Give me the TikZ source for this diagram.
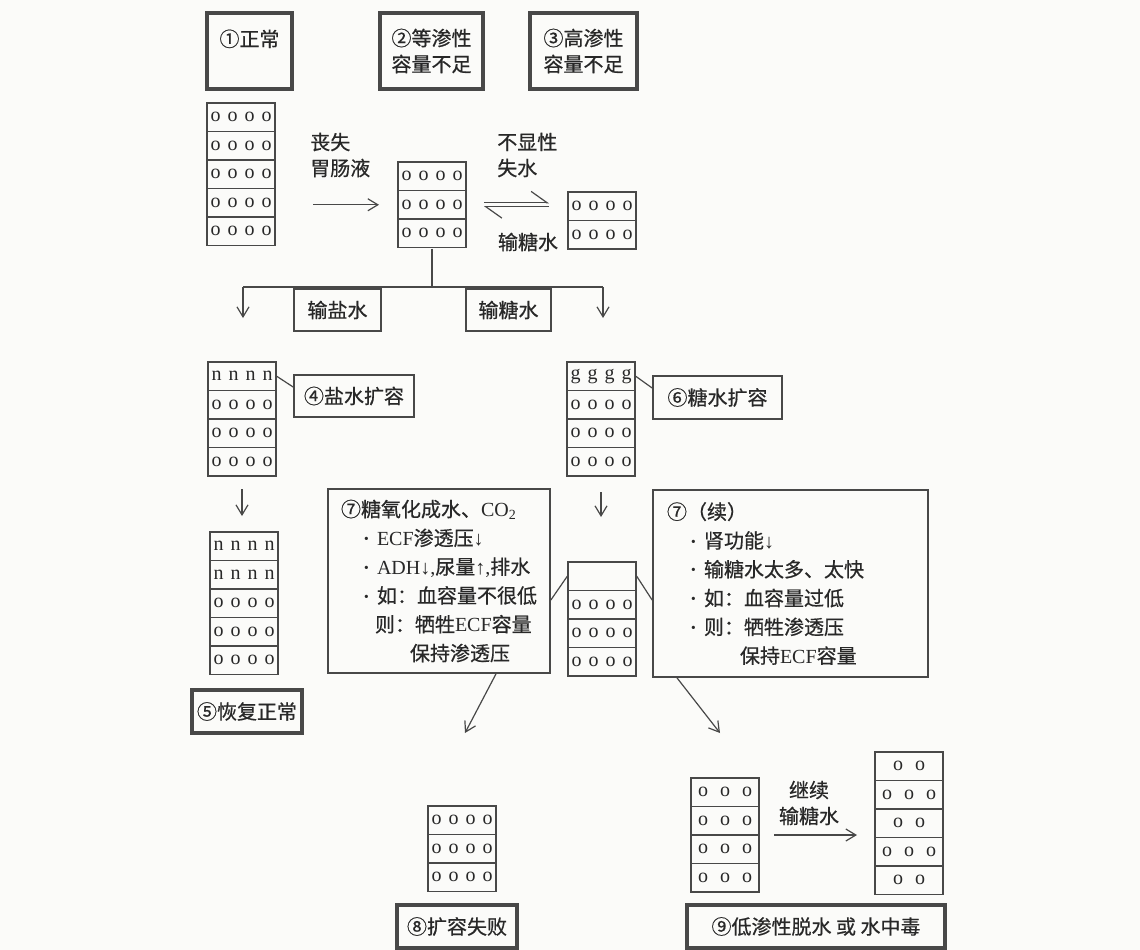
\documentclass[tikz,border=0pt]{standalone}
\usepackage{fontspec}
\setmainfont{Liberation Serif}
\newfontfamily\cjk{Noto Sans CJK SC}[FakeBold=0.6]
\usetikzlibrary{arrows.meta,calc,fit}
\definecolor{ink}{RGB}{72,72,72}
\definecolor{txt}{RGB}{40,40,40}
\definecolor{paper}{RGB}{251,251,249}
\newcommand\lat[1]{{\rmfamily #1}}
\newcommand\dn{{\rmfamily\bfseries ↓}}
\newcommand\up{{\rmfamily\bfseries ↑}}
\newcommand\bul{\makebox[10.5pt][l]{\rmfamily\bfseries\textperiodcentered}}
\newcommand\gp{\hspace{5.25pt}}
\newcommand\four[1]{#1\gp#1\gp#1\gp#1}
\newcommand\three{o\hspace{9pt}o\hspace{9pt}o}
\newcommand\two{o\hspace{9pt}o}
\tikzset{
  every node/.style={text=txt, font=\cjk\fontsize{15}{19.5}\selectfont},
  thickbox/.style={draw=ink, line width=2.6pt, inner sep=0pt, align=center},
  thinbox/.style={draw=ink, line width=1.3pt, inner sep=0pt, align=center},
  cell/.style={draw=ink, line width=1.1pt, minimum width=51pt, minimum height=21.375pt, inner sep=0pt, font=\rmfamily\fontsize{15}{15}\selectfont},
  frame/.style={inner sep=0pt, draw=none},
  arr/.style={draw=ink, line width=0.9pt, -{Straight Barb[length=7.5pt,width=9pt]}},
  link/.style={draw=ink, line width=0.9pt},
  harp/.style={draw=ink, line width=0.9pt, -{Straight Barb[harpoon,length=12pt,width=17pt]}},
  lbl/.style={align=left, inner sep=0pt},
  sevenbox/.style={draw=ink, line width=1.3pt, inner ysep=0pt, align=left, font=\cjk\fontsize{15}{21.6}\selectfont},
}
\newcommand\stk[4]{%
  \foreach \c [count=\i] in {#4}{%
    \node[cell] (#1-\i) at ({#2+34},{#3+(\i-0.5)*28.5}) {\c};
    \xdef\lastrow{\i}%
  }%
  \node[frame, fit=(#1-1)(#1-\lastrow)] (#1) {};
}
\begin{document}
\begin{tikzpicture}[x=0.75pt,y=-0.75pt]
\useasboundingbox (0,0) rectangle (1140,950);
\fill[paper] (0,0) rectangle (1140,950);

% top labels
\node[thickbox, minimum width=63.75pt, minimum height=57pt] (B1) at (249.5,51) {①正常\\\mbox{}};
\node[thickbox, minimum width=77.25pt, minimum height=57pt] (B2) at (431.5,51) {②等渗性\\容量不足};
\node[thickbox, minimum width=80.25pt, minimum height=57pt] (B3) at (583.5,51) {③高渗性\\容量不足};

% stacks
\stk{S1}{207}{103}{\four o,\four o,\four o,\four o,\four o}
\stk{S2}{398}{162}{\four o,\four o,\four o}
\stk{S3}{568}{192}{\four o,\four o}
\stk{S4}{208}{362}{\four n,\four o,\four o,\four o}
\stk{S6}{567}{362}{\four g,\four o,\four o,\four o}
\stk{S5}{210}{532}{\four n,\four n,\four o,\four o,\four o}
\stk{S7}{568}{562}{{},\four o,\four o,\four o}
\stk{S8}{428}{806}{\four o,\four o,\four o}
\stk{S9a}{691}{778}{\three,\three,\three,\three}
\stk{S9b}{875}{752}{\two,\three,\two,\three,\two}

% labels
\node[lbl, anchor=west] (Lloss) at (310,155) {丧失\\胃肠液};
\node[lbl, anchor=west] (Linsens) at (497,155) {不显性\\失水};
\node[lbl] (Lglu) at (528,242) {输糖水};
\node[align=center, inner sep=0pt] (Lcont) at (809,803) {继续\\输糖水};

% branch boxes
\node[thinbox, minimum width=65.25pt, minimum height=31.5pt] (Bsalt) at (337.5,310) {输盐水};
\node[thinbox, minimum width=63.75pt, minimum height=31.5pt] (Bglu) at (508.5,310) {输糖水};

% callouts
\node[thinbox, minimum width=90pt, minimum height=31.5pt] (B4) at (354,396) {④盐水扩容};
\node[thinbox, minimum width=96.75pt, minimum height=32.25pt] (B6) at (717.5,397.5) {⑥糖水扩容};

% seven boxes
\node[sevenbox, minimum width=166.5pt, minimum height=138pt, inner xsep=9.75pt, text width=147pt] (B7L) at (439,581) {%
⑦糖氧化成水、\lat{CO\textsubscript{2}}\\
\hspace*{16.5pt}\bul\lat{ECF}渗透压\dn\\
\hspace*{16.5pt}\bul\lat{ADH}\dn\lat{,}尿量\up\lat{,}排水\\
\hspace*{16.5pt}\bul 如：血容量不很低\\
\hspace*{25.5pt}则：牺牲\lat{ECF}容量\\
\hspace*{51.75pt}保持渗透压};
\node[sevenbox, minimum width=206.25pt, minimum height=140.25pt, inner xsep=10.5pt, text width=185.25pt] (B7R) at (790.5,583.5) {%
⑦（续）\\
\hspace*{17.25pt}\bul 肾功能\dn\\
\hspace*{17.25pt}\bul 输糖水太多、太快\\
\hspace*{17.25pt}\bul 如：血容量过低\\
\hspace*{17.25pt}\bul 则：牺牲渗透压\\
\hspace*{54.75pt}保持\lat{ECF}容量};

% result boxes
\node[thickbox, minimum width=82.5pt, minimum height=32.25pt] (B5) at (247,711.5) {⑤恢复正常};
\node[thickbox, minimum width=90pt, minimum height=32.25pt] (B8) at (457,926.5) {⑧扩容失败};
\node[thickbox, minimum width=193.5pt, minimum height=32.25pt] (B9) at (816,926.5) {⑨低渗性脱水\ 或\ 水中毒};

% connectors
\draw[arr, shorten <=27.75pt, shorten >=13.5pt] (S1.east |- S2.west) -- (S2.west);
\draw[harp, shorten <=12.75pt, shorten >=13.5pt] ($(S2.east)+(0,-2)$) -- ($(S2.east -| S3.west)+(0,-2)$);
\draw[harp, shorten <=13.5pt, shorten >=12.75pt] ($(S2.east -| S3.west)+(0,2)$) -- ($(S2.east)+(0,2)$);

\coordinate (bl) at (243,287);
\coordinate (br) at (603,287);
\coordinate (blE) at (243,318);
\coordinate (brE) at (603,318);
\draw[link] (S2.south) -- (S2.south |- bl);
\draw[link] (bl) -- (br);
\draw[arr] (bl) -- (blE);
\draw[arr] (br) -- (brE);

\draw[link] (S4-1.east) -- ($(B4.west)+(0,-9)$);
\draw[link] (S6-1.east) -- ($(B6.west)+(0,-9.5)$);

\draw[arr, shorten <=9pt, shorten >=11.25pt] (S4.south) -- (S4.south |- S5.north);
\draw[arr, shorten <=11.25pt, shorten >=33pt] (S6.south) -- (S6.south |- S7.north);

\draw[link] (S7-1.west) -- ($(B7L.east)+(0,19)$);
\draw[link] (S7-1.east) -- ($(B7R.west)+(0,16.5)$);

\coordinate (e8) at (465,733);
\coordinate (e9) at (720,733);
\draw[arr] ($(B7L.south)+(57,0)$) -- (e8);
\draw[arr] ($(B7R.south)+(-113.5,0)$) -- (e9);

\draw[arr, shorten <=10.5pt, shorten >=12.75pt] (S9a.east) -- (S9a.east -| S9b.west);
\end{tikzpicture}
\end{document}
